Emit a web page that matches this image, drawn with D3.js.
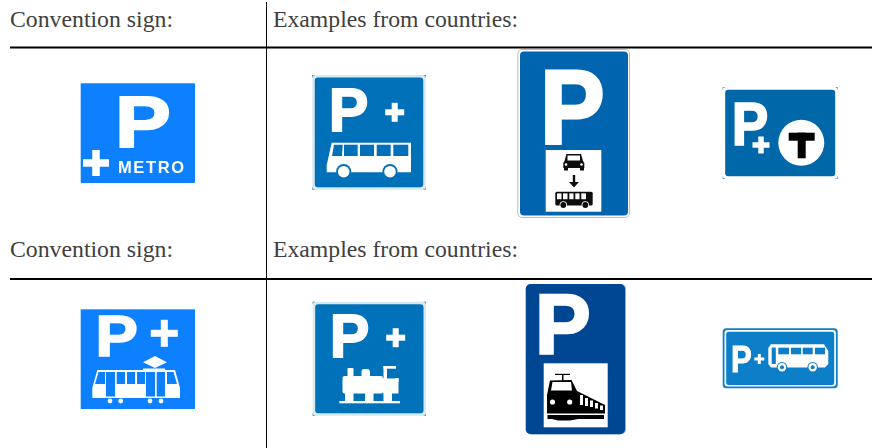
<!DOCTYPE html>
<html><head><meta charset="utf-8">
<script src="https://cdn.jsdelivr.net/npm/d3@7"></script>
<style>html,body{margin:0;padding:0;background:#fff}svg{display:block}</style>
</head><body><svg id="c" width="872" height="448"></svg>
<script>
// Table content
const rowHeaders = ["Convention sign:", "Examples from countries:"];
const rowNames = ["Bus and metro", "Tram and rail"];
const signsRow1 = ["metro", "busSquare", "busTall", "tBanan"];
const signsRow2 = ["tram", "loco", "trainTall", "busWide"];

const svg = d3.select("#c");
const defs = svg.append("defs");
defs.append("filter").attr("id","soft").attr("x","-5%").attr("y","-5%").attr("width","110%").attr("height","110%")
  .append("feGaussianBlur").attr("stdDeviation",0.4);

// ---------- table ----------
const ruleX = d3.scaleOrdinal().domain(["start","divider","end"]).range([10,266.5,872]);
const headerX = d3.scaleOrdinal().domain(rowHeaders).range([10,273]);
const headerW = d3.scaleOrdinal().domain(rowHeaders).range([163,245]);
const table = svg.append("g");
rowNames.forEach((r,i)=>{
  const base = i===0 ? 26.5 : 257;
  const lineY = i===0 ? 47.5 : 279;
  table.selectAll(null).data(rowHeaders).join("text")
    .attr("x",d=>headerX(d)).attr("y",base)
    .attr("font-family","'Liberation Serif',serif").attr("font-size",22.5)
    .attr("fill","#404040")
    .attr("textLength",d=>headerW(d)).attr("lengthAdjust","spacingAndGlyphs")
    .text(d=>d);
  table.append("line").attr("x1",ruleX("start")).attr("x2",ruleX("end"))
    .attr("y1",lineY).attr("y2",lineY).attr("stroke","#000").attr("stroke-width",1.8);
});
table.append("line").attr("x1",ruleX("divider")).attr("x2",ruleX("divider"))
  .attr("y1",2).attr("y2",448).attr("stroke","#000").attr("stroke-width",1);

// ---------- drawing helpers ----------
function box(g,x0,y0,x1,y1,fill,rx){
  return g.append("rect").attr("x",x0).attr("y",y0).attr("width",x1-x0).attr("height",y1-y0)
    .attr("fill",fill).attr("rx",rx||0);
}
function plus(g,cx,cy,s,t,fill){
  box(g,cx-s/2,cy-t/2,cx+s/2,cy+t/2,fill);
  box(g,cx-t/2,cy-s/2,cx+t/2,cy+s/2,fill);
}
function glyphP(g,x0,y0,x1,y1,fill){
  // Bold cap fitted to the sign's P, thickened to the heavier sign lettering
  const sw=(x1-x0)*0.05, hs=sw/2;
  const fs=(y1-y0-sw)/0.716, sx=(x1-x0-sw)/(0.549*fs);
  g.append("text").text("P").attr("font-family","'Liberation Sans',Arial,sans-serif")
    .attr("font-weight",700).attr("font-size",fs).attr("fill",fill)
    .attr("stroke",fill).attr("stroke-width",sw).attr("vector-effect","non-scaling-stroke")
    .attr("stroke-linejoin","miter")
    .attr("transform",`translate(${x0+hs-0.073*fs*sx},${y1-hs}) scale(${sx},1)`);
}
function poly(g,pts,fill){
  return g.append("path").attr("d",d3.line()(pts)+"Z").attr("fill",fill);
}
function circle(g,cx,cy,r,fill){
  return g.append("circle").attr("cx",cx).attr("cy",cy).attr("r",r).attr("fill",fill);
}
function framed(g,x0,y0,x1,y1,edge,blue){
  // square plate: small coloured corners, pale frame, blue field
  [[x0,y0],[x1-2.5,y0],[x0,y1-2.5],[x1-2.5,y1-2.5]].forEach(c=>box(g,c[0],c[1],c[0]+2.5,c[1]+2.5,blue));
  box(g,x0,y0,x1,y1,edge,3);
  box(g,x0+2.5,y0+2.5,x1-2.5,y1-2.5,blue,3);
}

// ---------- signs ----------
const drawers = {
  metro(g){
    const b="#0a80ff";
    box(g,80.7,83.3,195,183,b,1);
    glyphP(g,120,93.5,168,148,"#fff");
    plus(g,96,163,26,7.5,"#fff");
    g.append("text").text("METRO").attr("x",118).attr("y",173.2)
      .attr("font-family","'Liberation Sans',Arial,sans-serif").attr("font-weight",700)
      .attr("font-size",16.5).attr("fill","#fff")
      .attr("textLength",66).attr("lengthAdjust","spacing");
  },
  busSquare(g){
    const b="#0470b8";
    framed(g,312.3,75,425.7,189.7,"#d6e9ee",b);
    glyphP(g,332.3,85.7,366.7,131.7,"#fff");
    plus(g,394.7,112.3,19,6,"#fff");
    poly(g,[[331.7,142.8],[411,142.8],[411,172.3],[326.7,172.3],[326.7,165]],"#fff");
    [[344,357.7],[360,374],[376.7,390.7],[393.3,408.3]].forEach(w=>box(g,w[0],144.7,w[1],156,b));
    poly(g,[[334,144.7],[342.7,144.7],[342,156],[332,156]],b);
    [343.7,390].forEach(x=>{circle(g,x,171.7,7.6,b);circle(g,x,171.7,5.8,"#fff");});
  },
  busTall(g){
    const b="#0565ae", k="#111";
    box(g,517.3,49,630,218,"#bdbdbd",5);
    box(g,518.3,50,629,217,"#fff",4);
    box(g,520,51.5,628,215.5,b,4);
    glyphP(g,545.7,66.7,601.7,145,"#fff");
    box(g,545.7,150,601.3,211.7,"#fff");
    // car
    poly(g,[[566.5,154],[581,154],[583,161],[584.3,163],[584.3,168],[563.3,168],[563.3,163],[564.5,161]],k);
    box(g,567.5,155.5,580,160.5,"#fff");
    circle(g,566,164.5,1.3,"#fff"); circle(g,581.5,164.5,1.3,"#fff");
    box(g,564,168,568,170.5,k); box(g,580,168,584,170.5,k);
    // arrow
    box(g,572.8,175,575.2,182.5,k);
    poly(g,[[569,182],[579,182],[574,187.5]],k);
    // bus
    box(g,555.3,191.7,592.7,205.5,k,1.5);
    [[557,561.5],[563,567.5],[569.3,573.5],[575.3,579.5],[581.3,586]].forEach(w=>box(g,w[0],193.4,w[1],199.2,"#fff"));
    [563.3,585.3].forEach(x=>{circle(g,x,205,3.7,"#fff");circle(g,x,205,2.9,k);});
  },
  tBanan(g){
    const b="#0067a8";
    framed(g,722.7,87.3,837.7,178.7,"#fff",b);
    glyphP(g,735,100,766.7,145.3,"#fff");
    plus(g,761,145,17,5.5,"#fff");
    circle(g,801.3,142.7,23,"#fff");
    box(g,788.7,132.7,814.7,140.7,"#000");
    box(g,797.7,132.7,805.7,158.3,"#000");
  },
  tram(g){
    const b="#0a80ff";
    box(g,80.7,309.3,195,409,b);
    glyphP(g,99.3,314,136,356.7,"#fff");
    plus(g,164.3,333.3,27,7,"#fff");
    poly(g,[[143,362.3],[155,356],[167,362.3],[155,368]],"#fff");
    box(g,143,368.5,165,370.5,"#fff");
    poly(g,[[97.3,370],[175,370],[180,388],[180,398],[92.3,398],[92.3,388]],"#fff");
    poly(g,[[98.5,372],[105,372],[105,384],[95,384]],b);
    box(g,106,372,115,396.5,b);
    [[116.7,125],[127,135],[137,145]].forEach(w=>box(g,w[0],372,w[1],384,b));
    box(g,146,372,155,396.5,b);
    box(g,156.7,372,165,396.5,b);
    poly(g,[[167,372],[173.5,372],[177,384],[167,384]],b);
    [110,120.7,150,161].forEach(x=>circle(g,x,401,2.4,"#fff"));
  },
  loco(g){
    const b="#0472b9", w="#fff";
    framed(g,312.7,301.7,426,415.7,"#d6e9ee",b);
    glyphP(g,333.3,312.3,367.7,358.3,w);
    plus(g,395.7,337.7,19,6,w);
    box(g,342.5,376,383,393.5,w,2);
    box(g,347.5,368,353.5,378,w,1);
    box(g,361.5,369,370,378,w,3);
    box(g,383,378.5,398.5,393.5,w);
    box(g,383.5,366,387,380,w);
    box(g,383.5,366,396,368.7,w);
    box(g,395.5,378,398.5,382,w);
    [[345,353.5],[365,373.5],[383.5,392]].forEach(a=>box(g,a[0],392,a[1],401,w));
    box(g,339.3,401,400,403.3,w);
  },
  trainTall(g){
    const b="#014693", k="#000", w="#fff";
    box(g,526.5,284,626,434.3,"#7fb1d8",5);
    box(g,525.7,284,625,434.3,b,5);
    glyphP(g,540,291.7,588.3,355.7,w);
    box(g,543.7,363.3,607.7,427.3,w);
    box(g,555,373.8,570,375,k);
    box(g,562,374,563.5,381,k);
    poly(g,[[550,380.5],[571.5,380],[577,391],[605,405],[605,413.5],[547,413.5],[547,395]],k);
    poly(g,[[552.5,382],[571,382],[572,390.5],[551,390.5]],w);
    circle(g,552.5,402,2.6,w); circle(g,569.7,402,2.6,w);
    [[580,395,583,405],[585,398,588,406],[590,400.5,593,407],[595,403,598,408.5],[600,405.5,603,410]]
      .forEach(a=>box(g,a[0],a[1],a[2],a[3],w));
    box(g,547.5,415,604,419,k);
    poly(g,[[552,419],[578,419],[570,420.5],[558,420.5]],k);
  },
  busWide(g){
    const b="#0b7fc8", w="#fff";
    box(g,722.7,328.3,837.7,388.3,b,3.5);
    box(g,724.5,330,835.9,386.6,w,3);
    box(g,726.2,331.7,834.2,384.9,b,2.5);
    glyphP(g,732.7,345,750.7,372.7,w);
    plus(g,759.3,359,10,3,w);
    poly(g,[[771,344.3],[824,344.3],[828.3,351],[828.3,364],[825,367.5],[771,367.5],[768.3,364],[768.3,348]],w);
    box(g,771.7,347.5,775.8,364,b);
    [[778.3,789],[791,801],[802.7,812.7],[815,825]].forEach(a=>box(g,a[0],347.7,a[1],354.3,b));
    [782,812.7].forEach(x=>{circle(g,x,367.3,5.3,b);circle(g,x,367.3,4.2,w);circle(g,x,367.3,2,b);});
  }
};

const signLayer = svg.append("g").attr("filter","url(#soft)");
signLayer.selectAll("g").data(signsRow1.concat(signsRow2)).join("g")
  .attr("class",d=>"sign "+d)
  .each(function(d){ drawers[d](d3.select(this)); });
</script></body></html>
